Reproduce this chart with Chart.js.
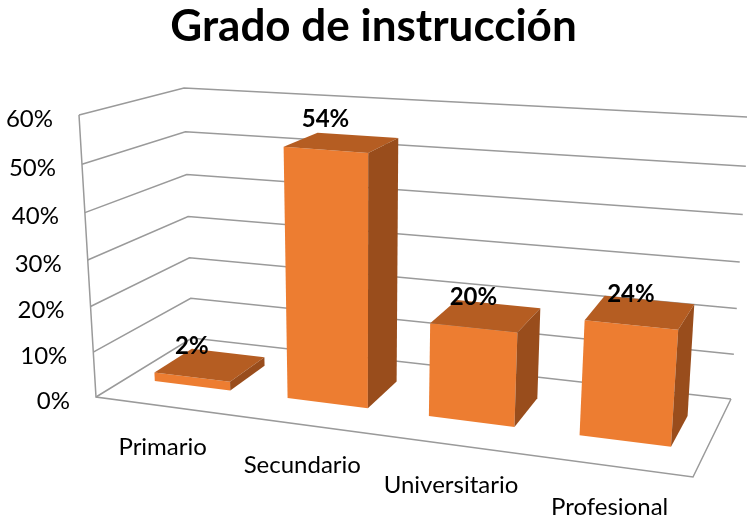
<!DOCTYPE html>
<html>
<head>
<meta charset="utf-8">
<title>Grado de instrucción</title>
<script src="https://cdn.jsdelivr.net/npm/chart.js@4.4.1/dist/chart.umd.min.js"></script>
<style>
    html, body { margin: 0; padding: 0; background: #fff; }
    #wrap { width: 747px; height: 520px; }
</style>
</head>
<body>
<div id="wrap"><canvas id="chart"></canvas></div>
<script>
// data
const categories = ['Primario', 'Secundario', 'Universitario', 'Profesional'];
const values = [0.02, 0.54, 0.20, 0.24];
const tickValues = [0, 0.1, 0.2, 0.3, 0.4, 0.5, 0.6];
const chartTitle = 'Grado de instrucción';

// 3D box corners on screen (front / back planes)
const box = {
    FBL: [96, 397], FBR: [693, 477], FTL: [79, 115], FTR: [715, 161],
    BBL: [192, 338], BBR: [731, 399], BTL: [184, 88], BTR: [749, 117]
};
const barDepth = [0.33, 0.73]; // front and back of the bars, 0 = front, 1 = back wall
const colors = { front: '#ED7D31', top: '#B55D22', side: '#994D1C', grid: '#9A9A9A' };
const fontFamily = 'Lato, "Open Sans", sans-serif';

function lerp(a, b, t) {
    return [a[0] + (b[0] - a[0]) * t, a[1] + (b[1] - a[1]) * t];
}

// simple perspective squeeze along one axis
function warp(t, k) {
    return t * k / (1 + (k - 1) * t);
}

// u = along categories, v = along values, w = depth (all 0..1)
function project(u, v, w) {
    u = warp(u, 0.88);
    v = warp(v, 0.945);
    const fb = lerp(box.FBL, box.FBR, u), ft = lerp(box.FTL, box.FTR, u);
    const bb = lerp(box.BBL, box.BBR, u), bt = lerp(box.BTL, box.BTR, u);
    return lerp(lerp(fb, ft, v), lerp(bb, bt, v), w);
}

function poly(ctx, pts, fill) {
    ctx.beginPath();
    ctx.moveTo(pts[0][0], pts[0][1]);
    for (let i = 1; i < pts.length; i++) ctx.lineTo(pts[i][0], pts[i][1]);
    ctx.closePath();
    ctx.fillStyle = fill;
    ctx.fill();
}

function line(ctx, pts) {
    ctx.beginPath();
    ctx.moveTo(pts[0][0], pts[0][1]);
    for (let i = 1; i < pts.length; i++) ctx.lineTo(pts[i][0], pts[i][1]);
    ctx.stroke();
}

// Plugin that redraws the flat chart as a 3D box using the chart's own scales
const box3d = {
    id: 'box3d',
    afterDatasetsDraw(chart) {
        const ctx = chart.ctx;
        const area = chart.chartArea;
        const yScale = chart.scales.y;
        const toU = px => (px - area.left) / (area.right - area.left);
        const toV = py => (area.bottom - py) / (area.bottom - area.top);

        ctx.save();
        // walls and gridlines
        ctx.strokeStyle = colors.grid;
        ctx.lineWidth = 1.5;
        tickValues.forEach(t => {
            const v = toV(yScale.getPixelForValue(t));
            line(ctx, [project(0, v, 0), project(0, v, 1), project(1, v, 1)]);
        });
        line(ctx, [project(0, 1, 0), project(0, 0, 0), project(1, 0, 0), project(1, 0, 1)]);

        // y tick labels along the front left edge
        ctx.fillStyle = '#000';
        ctx.font = '24px ' + fontFamily;
        ctx.textAlign = 'right';
        ctx.textBaseline = 'middle';
        tickValues.forEach(t => {
            const p = project(0, toV(yScale.getPixelForValue(t)), 0);
            ctx.fillText(Math.round(t * 100) + '%', p[0] - 26, p[1] + 4);
        });

        // bars
        const meta = chart.getDatasetMeta(0);
        const [w0, w1] = barDepth;
        meta.data.forEach((bar, i) => {
            const u0 = toU(bar.x - bar.width / 2), u1 = toU(bar.x + bar.width / 2);
            const v0 = toV(bar.base), v1 = toV(bar.y);
            poly(ctx, [project(u0, v0, w0), project(u1, v0, w0), project(u1, v1, w0), project(u0, v1, w0)], colors.front);
            poly(ctx, [project(u0, v1, w0), project(u1, v1, w0), project(u1, v1, w1), project(u0, v1, w1)], colors.top);
            poly(ctx, [project(u1, v0, w0), project(u1, v0, w1), project(u1, v1, w1), project(u1, v1, w0)], colors.side);

            // value label above the front face
            const top = project((u0 + u1) / 2, v1, w0);
            ctx.font = 'bold 24px ' + fontFamily;
            ctx.textAlign = 'center';
            ctx.fillStyle = '#000';
            ctx.fillText(Math.round(values[i] * 100) + '%', top[0], top[1] - 31);

            // category label below the floor front edge
            const bottom = project(toU(bar.x), 0, 0);
            ctx.font = '24px ' + fontFamily;
            ctx.fillText(categories[i], bottom[0], bottom[1] + 41);
        });
        ctx.restore();
    }
};

const ctx = document.getElementById('chart').getContext('2d');
new Chart(ctx, {
    type: 'bar',
    data: {
        labels: categories,
        datasets: [{
            label: chartTitle,
            data: values,
            backgroundColor: 'rgba(0,0,0,0)', // drawn by the box3d plugin
            barPercentage: 0.72,
            categoryPercentage: 0.8
        }]
    },
    options: {
        responsive: true,
        maintainAspectRatio: false,
        animation: false,
        scales: {
            x: { display: false },
            y: { display: false, min: 0, max: 0.6 }
        },
        plugins: {
            legend: { display: false },
            tooltip: { enabled: false },
            title: {
                display: true,
                text: chartTitle,
                color: '#000',
                font: { family: fontFamily, size: 44, weight: 'bold' },
                padding: { top: 0, bottom: 10 }
            }
        }
    },
    plugins: [box3d]
});
</script>
</body>
</html>
